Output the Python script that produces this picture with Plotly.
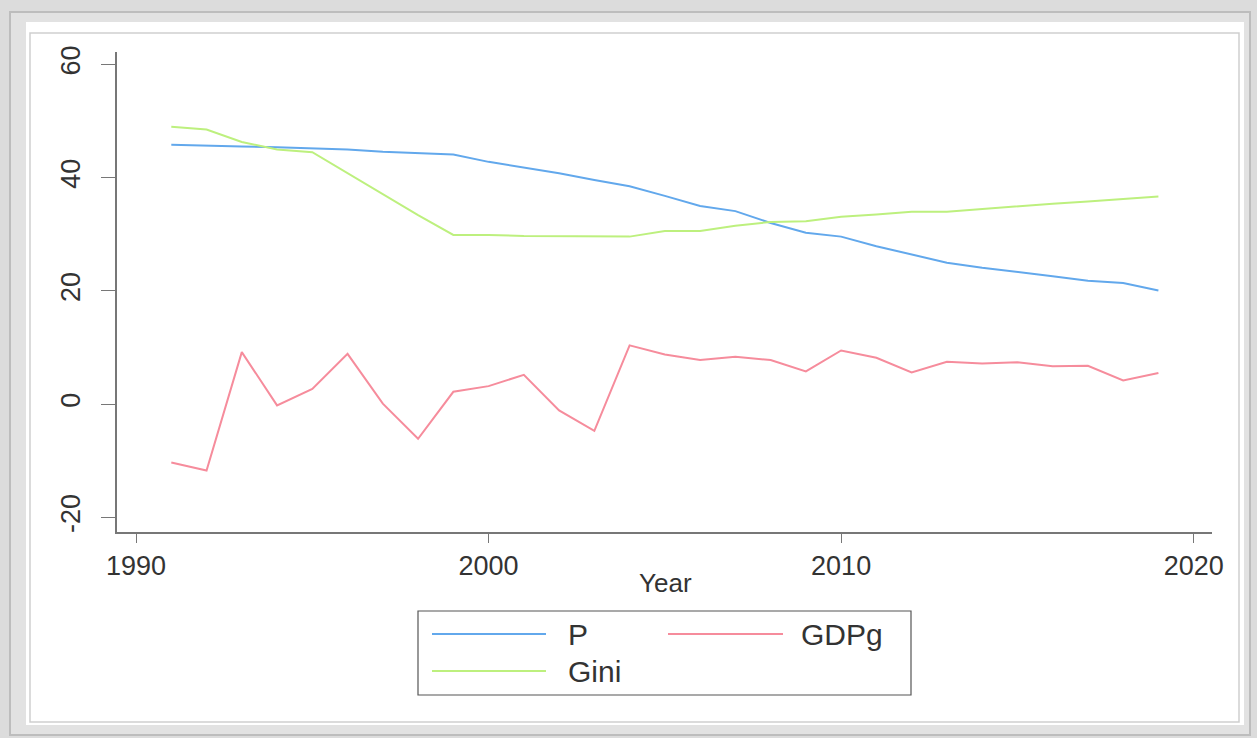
import plotly.graph_objects as go

years = list(range(1991, 2020))
P = [45.8, 45.6, 45.5, 45.4, 45.2, 45.0, 44.6, 44.3, 44.1, 42.8,
     41.8, 40.8, 39.6, 38.5, 36.8, 35.0, 34.1, 32.0, 30.3, 29.6,
     27.9, 26.4, 25.0, 24.1, 23.4, 22.6, 21.8, 21.4, 20.1]
Gini = [49.0, 48.5, 46.3, 45.0, 44.5, 40.8, 37.1, 33.4, 29.9, 29.9,
        29.7, 29.7, 29.7, 29.6, 30.6, 30.6, 31.5, 32.2, 32.3, 33.1,
        33.5, 34.0, 34.0, 34.5, 34.9, 35.4, 35.8, 36.2, 36.7]
GDPg = [-10.3, -11.7, 9.2, -0.2, 2.7, 8.9, 0.1, -6.1, 2.2, 3.2,
        5.2, -1.1, -4.7, 10.4, 8.8, 7.8, 8.4, 7.8, 5.8, 9.5,
        8.2, 5.6, 7.5, 7.2, 7.4, 6.7, 6.8, 4.2, 5.5]
series_names = ["P", "Gini", "GDPg"]
colors = {"P": "#62a8ec", "Gini": "#bdf07e", "GDPg": "#f68c9c"}
x_ticks = [1990, 2000, 2010, 2020]
y_ticks = [-20, 0, 20, 40, 60]
y_ticktext = ["-20", "0", "20", "40", "60"]
x_title = "Year"

W, H = 1257, 738
L, R, T, B = 117, 1212, 52, 532
pw, ph = R - L, B - T


def px(x):
    return (x - L) / pw


def py(y):
    return (B - y) / ph


FONT = "Liberation Sans, Arial, sans-serif"

fig = go.Figure()
data = {"P": P, "Gini": Gini, "GDPg": GDPg}
for name in series_names:
    fig.add_trace(go.Scatter(x=years, y=data[name], mode="lines", name=name,
                             line=dict(color=colors[name], width=2),
                             showlegend=False))

shapes = []
# frame decorations
shapes.append(dict(type="rect", xref="paper", yref="paper", x0=px(0), x1=px(W), y0=py(H), y1=py(0),
                   fillcolor="#dcdcdc", line=dict(width=0), layer="below"))
shapes.append(dict(type="rect", xref="paper", yref="paper", x0=px(10), x1=px(1250), y0=py(735), y1=py(12),
                   fillcolor="#e2e2e2", line=dict(color="#bdbdbd", width=2), layer="below"))
shapes.append(dict(type="rect", xref="paper", yref="paper", x0=px(26), x1=px(1244), y0=py(725), y1=py(22),
                   fillcolor="#ffffff", line=dict(width=0), layer="below"))
shapes.append(dict(type="rect", xref="paper", yref="paper", x0=px(30), x1=px(1239), y0=py(722), y1=py(33),
                   fillcolor="rgba(0,0,0,0)", line=dict(color="#cfcfcf", width=1.5), layer="below"))
# legend box
shapes.append(dict(type="rect", xref="paper", yref="paper", x0=px(418), x1=px(911), y0=py(695), y1=py(611),
                   fillcolor="#ffffff", line=dict(color="#555555", width=1.2)))
leg = [("P", 432, 546, 634, 566), ("GDPg", 668, 783, 634, 799), ("Gini", 432, 546, 671, 566)]
annotations = []
for name, x0, x1, yy, tx in leg:
    shapes.append(dict(type="line", xref="paper", yref="paper", x0=px(x0), x1=px(x1), y0=py(yy), y1=py(yy),
                       line=dict(color=colors[name], width=2)))
    annotations.append(dict(text=name, xref="paper", yref="paper", x=px(tx), y=py(yy), xanchor="left",
                            yanchor="middle", showarrow=False, font=dict(family=FONT, size=30, color="#333333")))
annotations.append(dict(text=x_title, xref="paper", yref="paper", x=px(665), y=py(583), xanchor="center",
                        yanchor="middle", showarrow=False, font=dict(family=FONT, size=26, color="#333333")))

fig.update_layout(
    width=W, height=H,
    margin=dict(l=L, r=W - R, t=T, b=H - B),
    paper_bgcolor="#dcdcdc", plot_bgcolor="#ffffff",
    shapes=shapes, annotations=annotations,
    showlegend=False,
    xaxis=dict(range=[1989.46, 2020.52], tickvals=x_ticks, ticks="outside", ticklen=9, tickcolor="#777777",
               showline=True, linecolor="#777777", linewidth=1.5, showgrid=False, zeroline=False,
               tickfont=dict(family=FONT, size=27, color="#333333")),
    yaxis=dict(range=[-22.56, 62.2], tickvals=y_ticks, ticktext=y_ticktext, tickangle=-90, ticks="outside",
               ticklen=14, tickcolor="#777777", showline=True, linecolor="#777777", linewidth=1.5,
               showgrid=False, zeroline=False, ticklabelstandoff=10,
               tickfont=dict(family=FONT, size=27, color="#333333")),
)

fig.write_html("out.html")
